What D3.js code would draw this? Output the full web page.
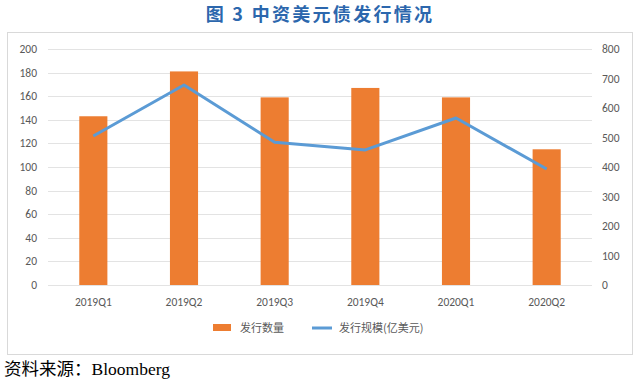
<!DOCTYPE html>
<html>
<head>
<meta charset="utf-8">
<script src="https://cdn.jsdelivr.net/npm/d3@7/dist/d3.min.js"></script>
<style>
  body { margin: 0; background: #fff; }
  svg { display: block; }
</style>
</head>
<body>
<svg id="chart" width="640" height="385"></svg>
<script>
// data
const quarters = ["2019Q1", "2019Q2", "2019Q3", "2019Q4", "2020Q1", "2020Q2"];
const issueCount = [143, 181, 159, 167, 159, 115];
const issueSize = [505, 678, 484, 458, 566, 393];
const leftTicks = [0, 20, 40, 60, 80, 100, 120, 140, 160, 180, 200];
const rightTicks = [0, 100, 200, 300, 400, 500, 600, 700, 800];

const svg = d3.select("#chart");
const margin = {left: 48, right: 592, top: 49, bottom: 285};

// title
svg.append("text")
    .attr("x", 320).attr("y", 21)
    .attr("text-anchor", "middle")
    .style("font-family", "'Noto Sans CJK SC', sans-serif")
    .style("font-weight", "bold")
    .style("font-size", "18px")
    .style("letter-spacing", "2.3px")
    .style("fill", "#2c67ad")
    .text("图 3  中资美元债发行情况");

// chart frame
svg.append("rect")
    .attr("x", 7.5).attr("y", 32.5)
    .attr("width", 625).attr("height", 322)
    .attr("fill", "none")
    .attr("stroke", "#d9d9d9");

let x = d3.scaleBand().domain(quarters).range([margin.left, margin.right]).paddingInner(0.69).paddingOuter(0.345);
let yL = d3.scaleLinear().domain([0, 200]).range([margin.bottom, margin.top]);
let yR = d3.scaleLinear().domain([0, 800]).range([margin.bottom, margin.top]);

// gridlines
svg.append("g").selectAll("line")
    .data(leftTicks)
    .enter().append("line")
    .attr("x1", margin.left).attr("x2", margin.right)
    .attr("y1", d => Math.round(yL(d)) + 0.5)
    .attr("y2", d => Math.round(yL(d)) + 0.5)
    .attr("stroke", "#e3e3e3");

const tickStyle = sel => sel
    .style("font-family", "Calibri, Carlito, 'Liberation Sans', sans-serif")
    .style("font-size", "11.5px")
    .style("fill", "#595959");

// left axis labels
svg.append("g").selectAll("text")
    .data(leftTicks)
    .enter().append("text")
    .attr("x", 37).attr("y", d => yL(d) + 4)
    .attr("text-anchor", "end")
    .call(tickStyle)
    .text(d => d);

// right axis labels
svg.append("g").selectAll("text")
    .data(rightTicks)
    .enter().append("text")
    .attr("x", 602).attr("y", d => yR(d) + 4)
    .attr("text-anchor", "start")
    .call(tickStyle)
    .text(d => d);

// category labels
svg.append("g").selectAll("text")
    .data(quarters)
    .enter().append("text")
    .attr("x", d => x(d) + x.bandwidth() / 2)
    .attr("y", 306)
    .attr("text-anchor", "middle")
    .call(tickStyle)
    .text(d => d);

// bars
svg.append("g").selectAll("rect")
    .data(issueCount)
    .enter().append("rect")
    .attr("x", (d, i) => x(quarters[i]))
    .attr("y", d => yL(d))
    .attr("width", x.bandwidth())
    .attr("height", d => yL(0) - yL(d))
    .attr("fill", "#ed7d31");

// line
let line = d3.line()
    .x((d, i) => x(quarters[i]) + x.bandwidth() / 2)
    .y(d => yR(d));

svg.append("path")
    .datum(issueSize)
    .attr("d", line)
    .attr("fill", "none")
    .attr("stroke", "#5b9bd5")
    .attr("stroke-width", 3)
    .attr("stroke-linejoin", "round");

// legend
let legend = svg.append("g").attr("transform", "translate(0,328)");
legend.append("rect")
    .attr("x", 213).attr("y", -4).attr("width", 18).attr("height", 7)
    .attr("fill", "#ed7d31");
legend.append("text")
    .attr("x", 240).attr("y", 4)
    .call(tickStyle)
    .style("font-family", "'Noto Sans CJK SC', sans-serif")
    .style("font-size", "11px")
    .text("发行数量");
legend.append("line")
    .attr("x1", 312).attr("x2", 332).attr("y1", 0).attr("y2", 0)
    .attr("stroke", "#5b9bd5").attr("stroke-width", 3);
legend.append("text")
    .attr("x", 339).attr("y", 4)
    .call(tickStyle)
    .style("font-family", "'Noto Sans CJK SC', sans-serif")
    .style("font-size", "11px")
    .text("发行规模(亿美元)");

// source
svg.append("text")
    .attr("x", 4).attr("y", 375)
    .style("font-family", "'Liberation Serif', 'Noto Sans CJK SC', serif")
    .style("font-size", "17.5px")
    .style("fill", "#000")
    .text("资料来源：Bloomberg");
</script>
</body>
</html>
